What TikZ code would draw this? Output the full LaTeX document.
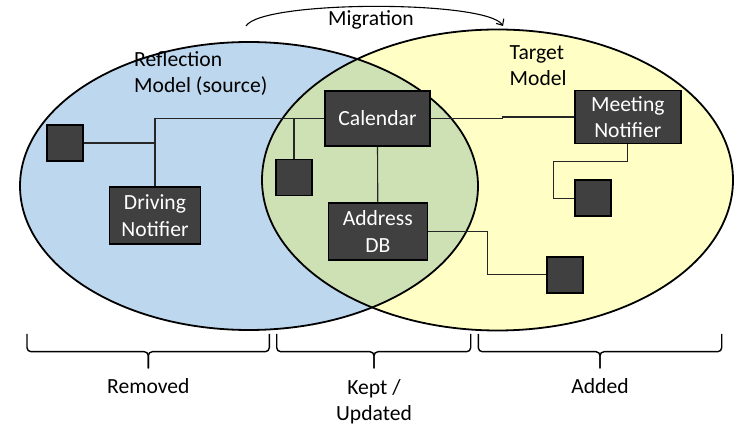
\documentclass[tikz,border=0pt]{standalone}
\usepackage{fontspec}
\setmainfont{Carlito}
\usetikzlibrary{arrows.meta}
\definecolor{blueF}{HTML}{BDD7EE}
\definecolor{yellowF}{HTML}{FFFFC5}
\definecolor{greenF}{HTML}{CEE1B4}
\definecolor{boxF}{HTML}{404040}
\begin{document}
\begin{tikzpicture}[x=1pt,y=-1pt,
  comp/.style={draw=black, line width=1.6pt, fill=boxF, text=white, inner sep=0pt, align=center, font=\fontsize{21.6}{26.5}\selectfont},
  sq/.style={comp, minimum width=36pt, minimum height=36pt},
  conn/.style={draw=black!85, line width=1.1pt},
  lbl/.style={inner sep=0pt, font=\fontsize{21.6}{26.5}\selectfont},
  brc/.style={line width=1.4pt, rounded corners=4pt},
  oval/.style={line width=1.8pt}]
\useasboundingbox (0,0) rectangle (734,427);
% sets
\fill[blueF] (249,186) ellipse [x radius=229, y radius=144];
\fill[yellowF] (497.5,180) ellipse [x radius=235.5, y radius=150.5];
\begin{scope}
  \clip (249,186) ellipse [x radius=229, y radius=144];
  \fill[greenF] (497.5,180) ellipse [x radius=235.5, y radius=150.5];
\end{scope}
\draw[oval] (249,186) ellipse [x radius=229, y radius=144];
\draw[oval] (497.5,180) ellipse [x radius=235.5, y radius=150.5];
% set labels
\node[lbl, align=left, anchor=base west] (refl) at (134,93) {Reflection\\Model (source)};
\node[lbl, align=left, anchor=base west] (targ) at (509.5,86) {Target\\Model};
% migration
\coordinate (migS) at (246,26);
\coordinate (migE) at (503,26);
\draw[line width=1.1pt, -{Straight Barb[length=5pt,width=9pt]}] (migS) .. controls (262,0) and (487,0) .. (migE);
\node[lbl, anchor=base] (mig) at (371,26) {Migration};
% components
\node[sq] (sq1) at (65,143) {};
\node[comp, minimum width=91pt, minimum height=57pt] (drv) at (155,215.7) {Driving\\Notifier};
\node[comp, minimum width=105pt, minimum height=55pt] (cal) at (377.5,118.3) {Calendar};
\node[sq] (sq2) at (294,177.7) {};
\node[comp, minimum width=99pt, minimum height=57pt] (adb) at (377.8,231.7) {Address\\DB};
\node[comp, minimum width=106pt, minimum height=53pt] (mtg) at (627.8,117) {Meeting\\Notifier};
\node[sq] (sq3) at (592.8,198.3) {};
\node[sq] (sq4) at (565,274.8) {};
% connectors
\coordinate (jm) at (502.7,0);
\coordinate (jt) at (553.3,161.7);
\coordinate (ja) at (487.3,274.8);
\draw[conn] (drv.north) |- (cal.west);
\draw[conn] (sq1.east) -- (sq1.east -| drv.north);
\draw[conn] (sq2.north) -- (sq2.north |- cal.west);
\draw[conn] (cal.south) -- (adb.north);
\draw[conn] (cal.east) -- (cal.east -| jm) -- (jm |- mtg.west) -- (mtg.west);
\draw[conn] (mtg.south) |- (jt) |- (sq3.west);
\draw[conn] (adb.east) -| (ja) -- (sq4.west);
% braces
\draw[brc] (27,334) -- (27,351.7) -- (148.3,351.7) -- (148.3,368.3);
\draw[brc] (269.3,334) -- (269.3,351.7) -- (148.3,351.7) -- (148.3,368.3);
\draw[brc] (276.7,334) -- (276.7,351.7) -- (374,351.7) -- (374,368.3);
\draw[brc] (470.7,334) -- (470.7,351.7) -- (374,351.7) -- (374,368.3);
\draw[brc] (478.3,334) -- (478.3,351.7) -- (600,351.7) -- (600,368.3);
\draw[brc] (721.7,334) -- (721.7,351.7) -- (600,351.7) -- (600,368.3);
\node[lbl, anchor=base] (rem) at (148.3,394) {Removed};
\node[lbl, anchor=base, align=center] (kept) at (374,421) {Kept /\\Updated};
\node[lbl, anchor=base] (add) at (600,394) {Added};
\end{tikzpicture}
\end{document}
